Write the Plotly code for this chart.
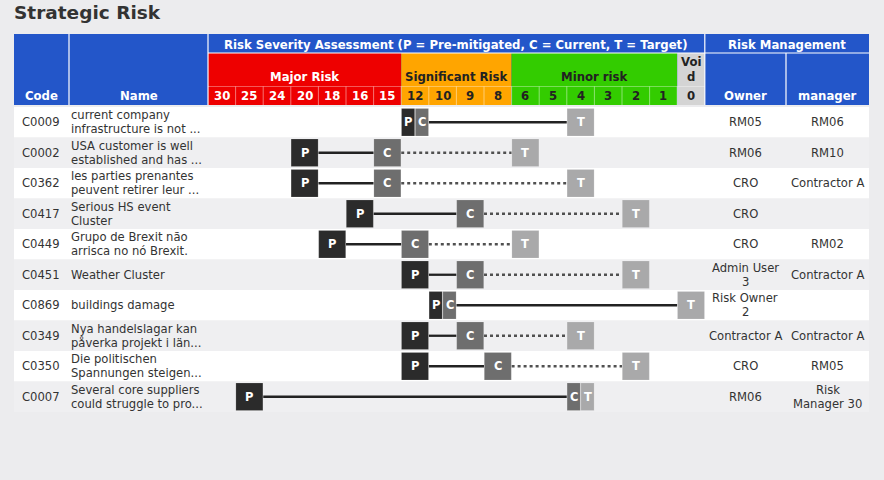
import plotly.graph_objects as go

# ---------------- data ----------------
severity_labels = [30, 25, 24, 20, 18, 16, 15, 12, 10, 9, 8, 6, 5, 4, 3, 2, 1, 0]
band_names = ["Major Risk", "Significant Risk", "Minor risk", "Voi\nd"]
band_sizes = [7, 4, 6, 1]

codes = ["C0009", "C0002", "C0362", "C0417", "C0449", "C0451", "C0869", "C0349", "C0350", "C0007"]
names = [
    "current company\ninfrastructure is not ...",
    "USA customer is well\nestablished and has ...",
    "les parties prenantes\npeuvent retirer leur ...",
    "Serious HS event\nCluster",
    "Grupo de Brexit não\narrisca no nó Brexit.",
    "Weather Cluster",
    "buildings damage",
    "Nya handelslagar kan\npåverka projekt i län...",
    "Die politischen\nSpannungen steigen...",
    "Several core suppliers\ncould struggle to pro...",
]
pre_mitigated = [12, 20, 20, 16, 18, 12, 10, 12, 12, 25]
current = [12, 15, 15, 9, 12, 9, 10, 9, 8, 4]
target = [4, 6, 4, 2, 6, 2, 0, 4, 2, 4]
owners = ["RM05", "RM06", "CRO", "CRO", "CRO", "Admin User\n3", "Risk Owner\n2", "Contractor A", "CRO", "RM06"]
managers = ["RM06", "RM10", "Contractor A", "", "RM02", "Contractor A", "", "Contractor A", "RM05", "Risk\nManager 30"]

# ---------------- layout / style ----------------
W, H = 884, 480
BG = "#ececee"
BLUE = "#2356c9"
BAND_COLORS = ["#ee0000", "#ffa500", "#33cc00", "#d4d4d4"]
BAND_TEXT = ["white", "#222222", "#222222", "#222222"]
TXT = "#333333"
FONT = "DejaVu Sans, Verdana, sans-serif"
FONT_B = "DejaVu Sans, Verdana, sans-serif"
FS = 11.6      # body font size
HFS = 11.7     # header font size

TAB_X0, TAB_X1 = 14, 869
CODE_X1 = 69
NAME_X1 = 208
GRID_X0 = 208
COL_W = 27.6
GRID_X1 = GRID_X0 + COL_W * len(severity_labels)
OWNER_X1 = 786
HEAD_Y0, HEAD_Y1, HEAD_Y2, HEAD_Y3 = 34, 53, 86.5, 105
ROW_Y0, ROW_H = 107, 30.5

MARK_COLORS = {"P": "#2b2b2b", "C": "#6e6e6e", "T": "#a9a9aa"}

shapes = []
annotations = []


def rect(x0, x1, y0, y1, color, layer="below", line_color=None, lw=0):
    shapes.append(dict(type="rect", xref="x", yref="y", x0=x0, x1=x1, y0=y0, y1=y1,
                       fillcolor=color, layer=layer,
                       line=dict(width=lw, color=line_color or color)))


def vline(x, y0, y1, color, w=1):
    shapes.append(dict(type="line", xref="x", yref="y", x0=x, x1=x, y0=y0, y1=y1,
                       layer="below", line=dict(color=color, width=w)))


def hline(y, x0, x1, color, w=1):
    shapes.append(dict(type="line", xref="x", yref="y", x0=x0, x1=x1, y0=y, y1=y,
                       layer="below", line=dict(color=color, width=w)))


def text(x, y, s, size=FS, color=TXT, bold=False, xanchor="center", yanchor="middle"):
    annotations.append(dict(x=x, y=y, xref="x", yref="y", text=f"<b>{s}</b>" if bold else s,
                            showarrow=False, xanchor=xanchor, yanchor=yanchor,
                            font=dict(family=FONT_B if bold else FONT, size=size, color=color)))


def multiline(x, yc, s, spacing=14, **kw):
    lines = s.split("\n")
    n = len(lines)
    for k, ln in enumerate(lines):
        text(x, yc + (k - (n - 1) / 2) * spacing, ln, **kw)


def col_left(v):
    return GRID_X0 + severity_labels.index(v) * COL_W


# ---------------- title ----------------
text(12, 12.5, "Strategic Risk", size=18.5, color="#333333", bold=True, xanchor="left")

# ---------------- header ----------------
rect(TAB_X0, TAB_X1, HEAD_Y0, HEAD_Y3, BLUE)
x = GRID_X0
for name, n, c, tc in zip(band_names, band_sizes, BAND_COLORS, BAND_TEXT):
    rect(x, x + n * COL_W, HEAD_Y1, HEAD_Y3, c)
    multiline(x + n * COL_W / 2, 77 if "\n" not in name else 69.5, name, spacing=15,
              size=HFS, color=tc, bold=True)
    x += n * COL_W

# number row
band_of = []
for bi, n in enumerate(band_sizes):
    band_of += [bi] * n
for i, v in enumerate(severity_labels):
    cx = GRID_X0 + (i + 0.5) * COL_W
    text(cx, 96, str(v), size=HFS, color=BAND_TEXT[band_of[i]], bold=True)
    if i > 0:
        vline(GRID_X0 + i * COL_W, HEAD_Y2, HEAD_Y3, "rgba(255,255,255,0.45)", 1)
hline(HEAD_Y2, GRID_X0, GRID_X1, "rgba(255,255,255,0.35)", 1)

# white separators
for xs, y0 in [(CODE_X1, HEAD_Y0), (NAME_X1, HEAD_Y0), (GRID_X1, HEAD_Y0), (OWNER_X1, HEAD_Y1)]:
    vline(xs, y0, HEAD_Y3, "white", 1.2)
hline(HEAD_Y1, GRID_X0, TAB_X1, "white", 1.2)

text(GRID_X0 + (GRID_X1 - GRID_X0) / 2, 44.5,
     "Risk Severity Assessment (P = Pre-mitigated, C = Current, T = Target)",
     size=HFS, color="white", bold=True)
text((GRID_X1 + TAB_X1) / 2, 44.5, "Risk Management", size=HFS, color="white", bold=True)
text((TAB_X0 + CODE_X1) / 2, 96, "Code", size=HFS, color="white", bold=True)
text((CODE_X1 + NAME_X1) / 2, 96, "Name", size=HFS, color="white", bold=True)
text((GRID_X1 + OWNER_X1) / 2, 96, "Owner", size=HFS, color="white", bold=True)
text((OWNER_X1 + TAB_X1) / 2, 96, "manager", size=HFS, color="white", bold=True)

# ---------------- rows ----------------
traces = []
for r in range(len(codes)):
    y0 = ROW_Y0 + r * ROW_H
    y1 = y0 + ROW_H
    yc = (y0 + y1) / 2
    rect(TAB_X0, TAB_X1, y0, y1, "#ffffff" if r % 2 == 0 else "#efeff1")

    text(20, yc, codes[r], xanchor="left")
    multiline(69, yc, names[r], xanchor="left")
    multiline((GRID_X1 + OWNER_X1) / 2, yc, owners[r])
    if managers[r]:
        multiline((OWNER_X1 + TAB_X1) / 2, yc, managers[r])

    p, c, t = pre_mitigated[r], current[r], target[r]
    boxes = {}
    # box extents (the column is halved when two markers share it)
    pl, cl, tl = col_left(p), col_left(c), col_left(t)
    if p == c:
        boxes["P"] = (pl, pl + COL_W / 2)
        boxes["C"] = (cl + COL_W / 2, cl + COL_W)
    else:
        boxes["P"] = (pl, pl + COL_W)
        boxes["C"] = (cl, cl + COL_W)
    if c == t:
        boxes["C"] = (cl, cl + COL_W / 2)
        boxes["T"] = (tl + COL_W / 2, tl + COL_W)
    else:
        boxes["T"] = (tl, tl + COL_W)

    # connecting lines
    if p != c:
        traces.append(go.Scatter(x=[boxes["P"][1], boxes["C"][0]], y=[yc, yc], mode="lines",
                                 line=dict(color="#222222", width=2.3), hoverinfo="skip",
                                 showlegend=False))
    if c != t:
        traces.append(go.Scatter(x=[boxes["C"][1], boxes["T"][0]], y=[yc, yc], mode="lines",
                                 line=dict(color="#222222" if p == c else "#505050", width=2.3,
                                           dash="solid" if p == c else "dot"),
                                 hoverinfo="skip", showlegend=False))

    for k in ["P", "C", "T"]:
        bx0, bx1 = boxes[k]
        rect(bx0 + 0.3, bx1 - 0.3, y0 + 1.5, y1 - 1.5, MARK_COLORS[k], layer="above",
             line_color="rgba(255,255,255,0.25)", lw=0.6)
        text((bx0 + bx1) / 2, yc, k, size=11.5, color="white", bold=True)

fig = go.Figure(traces)
fig.update_layout(
    width=W, height=H, autosize=False,
    margin=dict(l=0, r=0, t=0, b=0, pad=0),
    paper_bgcolor=BG, plot_bgcolor=BG,
    xaxis=dict(range=[0, W], visible=False, fixedrange=True),
    yaxis=dict(range=[H, 0], visible=False, fixedrange=True),
    shapes=shapes, annotations=annotations, showlegend=False,
)
fig.write_html("out.html")
